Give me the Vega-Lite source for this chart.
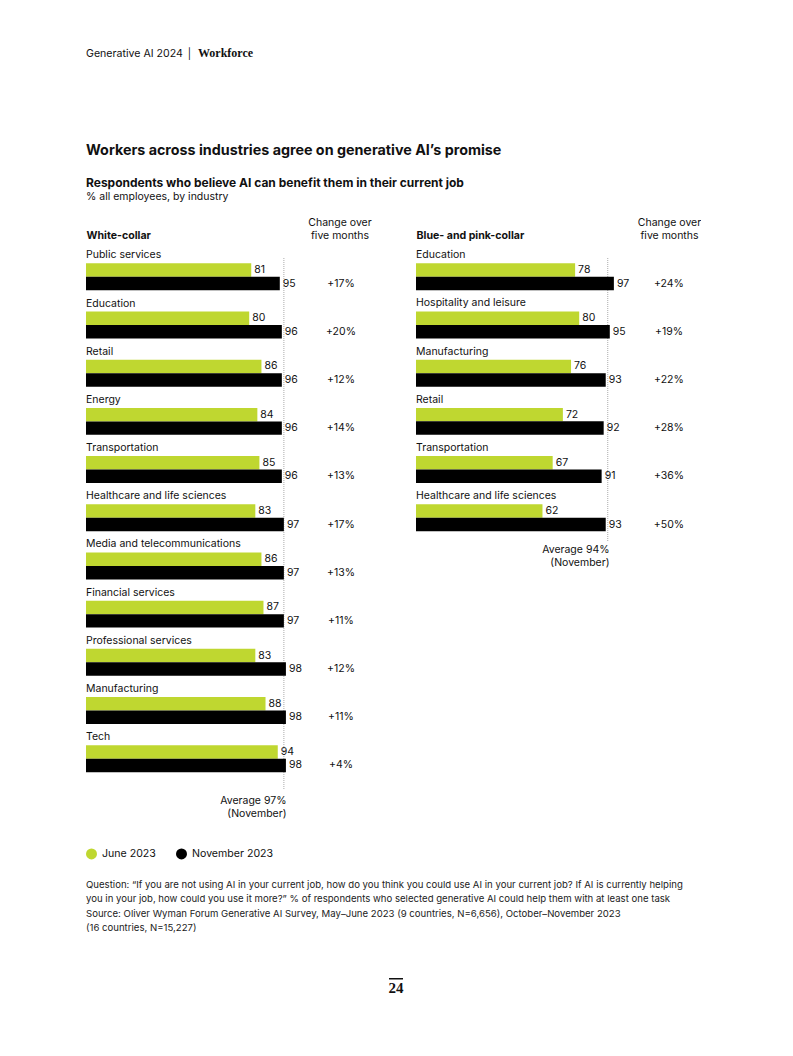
{
  "$schema": "https://vega.github.io/schema/vega-lite/v6.json",
  "background": "white",
  "padding": {"left": 86, "top": 47, "right": 0, "bottom": 0},
  "datasets": {
    "white": [
      {"industry": "Public services", "June 2023": 81, "November 2023": 95, "change": "+17%"},
      {"industry": "Education", "June 2023": 80, "November 2023": 96, "change": "+20%"},
      {"industry": "Retail", "June 2023": 86, "November 2023": 96, "change": "+12%"},
      {"industry": "Energy", "June 2023": 84, "November 2023": 96, "change": "+14%"},
      {"industry": "Transportation", "June 2023": 85, "November 2023": 96, "change": "+13%"},
      {"industry": "Healthcare and life sciences", "June 2023": 83, "November 2023": 97, "change": "+17%"},
      {"industry": "Media and telecommunications", "June 2023": 86, "November 2023": 97, "change": "+13%"},
      {"industry": "Financial services", "June 2023": 87, "November 2023": 97, "change": "+11%"},
      {"industry": "Professional services", "June 2023": 83, "November 2023": 98, "change": "+12%"},
      {"industry": "Manufacturing", "June 2023": 88, "November 2023": 98, "change": "+11%"},
      {"industry": "Tech", "June 2023": 94, "November 2023": 98, "change": "+4%"}
    ],
    "blue": [
      {"industry": "Education", "June 2023": 78, "November 2023": 97, "change": "+24%"},
      {"industry": "Hospitality and leisure", "June 2023": 80, "November 2023": 95, "change": "+19%"},
      {"industry": "Manufacturing", "June 2023": 76, "November 2023": 93, "change": "+22%"},
      {"industry": "Retail", "June 2023": 72, "November 2023": 92, "change": "+28%"},
      {"industry": "Transportation", "June 2023": 67, "November 2023": 91, "change": "+36%"},
      {"industry": "Healthcare and life sciences", "June 2023": 62, "November 2023": 93, "change": "+50%"}
    ],
    "avgWhite": [{"avg": 97}],
    "avgBlue": [{"avg": 94}]
  },
  "spacing": 0,
  "resolve": {"scale": {"color": "independent"}, "legend": {"color": "independent"}},
  "vconcat": [
    {
      "spacing": 4,
      "hconcat": [
        {"width": 1, "height": 79, "title": {"text": "Generative AI 2024 │", "fontSize": 10.6, "fontWeight": "normal"}, "data": {"values": []}, "mark": "point", "encoding": {}},
        {"width": 1, "height": 79, "title": {"text": "Workforce", "font": "Liberation Serif", "fontWeight": "bold", "fontSize": 12}, "data": {"values": []}, "mark": "point", "encoding": {}}
      ]
    },
    {"width": 1, "height": 14, "title": {"text": "Workers across industries agree on generative AI’s promise", "fontSize": 14.3, "fontWeight": "bold"}, "data": {"values": []}, "mark": "point", "encoding": {}},
    {"width": 1, "height": 10, "title": {"text": "Respondents who believe AI can benefit them in their current job", "subtitle": "% all employees, by industry", "fontSize": 12, "fontWeight": "bold", "subtitleFontSize": 10.5, "subtitleFont": "Inter", "subtitlePadding": 2, "subtitleColor": "#111111"}, "data": {"values": []}, "mark": "point", "encoding": {}},
    {
      "spacing": 126,
      "bounds": "flush",
      "resolve": {"scale": {"color": "shared"}, "legend": {"color": "shared"}},
      "hconcat": [
        {
          "width": 204,
          "height": 532,
          "data": {"name": "white"},
          "resolve": {"axis": {"x": "independent"}},
          "layer": [
            {
              "data": {"name": "avgWhite"},
              "mark": {"type": "rule", "color": "#aaaaaa", "strokeDash": [1, 1], "strokeWidth": 1},
              "encoding": {
                "x": {"field": "avg", "type": "quantitative", "scale": {"domain": [0, 100], "nice": false, "zero": true},
                  "axis": {"orient": "bottom", "title": ["Average 97%", "(November)"], "labels": false, "ticks": false, "domain": false, "grid": false, "titleX": 200, "titleY": 5.5, "titleAlign": "right", "titleBaseline": "top", "titleLineHeight": 13, "titleFontWeight": "normal", "titleFontSize": 10.5, "minExtent": 0, "maxExtent": 0}}
              }
            },
            {
              "transform": [{"fold": ["June 2023", "November 2023"], "as": ["period", "value"]}],
              "mark": {"type": "bar"},
              "encoding": {
                "y": {"field": "industry", "type": "nominal",
                  "scale": {"domain": ["Public services", "Education", "Retail", "Energy", "Transportation", "Healthcare and life sciences", "Media and telecommunications", "Financial services", "Professional services", "Manufacturing", "Tech"], "paddingInner": 0.44, "paddingOuter": 0.24, "align": 0.23},
                  "axis": {"title": "White-collar", "orient": "left", "labels": false, "ticks": false, "domain": false, "grid": false, "titleAngle": 0, "titleX": 0, "titleY": -20, "titleAlign": "left", "titleBaseline": "alphabetic", "titleFontWeight": "bold", "titleFontSize": 10.6, "minExtent": 0, "maxExtent": 0}},
                "yOffset": {"field": "period", "type": "nominal", "scale": {"domain": ["June 2023", "November 2023"], "paddingInner": 0, "paddingOuter": 0}},
                "x": {"field": "value", "type": "quantitative", "scale": {"domain": [0, 100], "nice": false, "zero": true},
                  "axis": {"orient": "top", "title": ["Change over", "five months"], "labels": false, "ticks": false, "domain": false, "grid": false, "titleX": 253.5, "titleY": -31, "titleAlign": "center", "titleBaseline": "bottom", "titleLineHeight": 13, "titleFontWeight": "normal", "titleFontSize": 10.5, "minExtent": 0, "maxExtent": 0}},
                "color": {"field": "period", "type": "nominal", "scale": {"domain": ["June 2023", "November 2023"], "range": ["#bfd730", "#000000"]},
                  "legend": {"orient": "bottom", "direction": "horizontal", "title": null, "symbolType": "circle", "symbolSize": 120, "symbolStrokeWidth": 0, "labelFontSize": 10.6, "labelColor": "#111111", "columnPadding": 20, "offset": 29, "labelOffset": 5}}
              }
            },
            {
              "transform": [{"fold": ["June 2023", "November 2023"], "as": ["period", "value"]}],
              "mark": {"type": "text", "align": "left", "baseline": "middle", "dx": 3},
              "encoding": {
                "y": {"field": "industry", "type": "nominal"},
                "yOffset": {"field": "period", "type": "nominal"},
                "x": {"field": "value", "type": "quantitative", "axis": null},
                "text": {"field": "value", "type": "quantitative"}
              }
            },
            {
              "mark": {"type": "text", "align": "left", "baseline": "alphabetic", "dy": -5},
              "encoding": {
                "y": {"field": "industry", "type": "nominal", "bandPosition": 0},
                "x": {"datum": 0, "type": "quantitative", "axis": null},
                "text": {"field": "industry"}
              }
            },
            {
              "mark": {"type": "text", "align": "center", "baseline": "middle"},
              "encoding": {
                "y": {"field": "industry", "type": "nominal", "bandPosition": 0.75},
                "x": {"datum": 125, "type": "quantitative", "axis": null},
                "text": {"field": "change"}
              }
            }
          ]
        },
        {
          "width": 204,
          "height": 283,
          "data": {"name": "blue"},
          "resolve": {"axis": {"x": "independent"}},
          "layer": [
            {
              "data": {"name": "avgBlue"},
              "mark": {"type": "rule", "color": "#aaaaaa", "strokeDash": [1, 1], "strokeWidth": 1},
              "encoding": {
                "x": {"field": "avg", "type": "quantitative", "scale": {"domain": [0, 100], "nice": false, "zero": true},
                  "axis": {"orient": "bottom", "title": ["Average 94%", "(November)"], "labels": false, "ticks": false, "domain": false, "grid": false, "titleX": 193, "titleY": 3, "titleAlign": "right", "titleBaseline": "top", "titleLineHeight": 13, "titleFontWeight": "normal", "titleFontSize": 10.5, "minExtent": 0, "maxExtent": 0}}
              }
            },
            {
              "transform": [{"fold": ["June 2023", "November 2023"], "as": ["period", "value"]}],
              "mark": {"type": "bar"},
              "encoding": {
                "y": {"field": "industry", "type": "nominal",
                  "scale": {"domain": ["Education", "Hospitality and leisure", "Manufacturing", "Retail", "Transportation", "Healthcare and life sciences"], "paddingInner": 0.44, "paddingOuter": 0.156, "align": 0.352},
                  "axis": {"title": "Blue- and pink-collar", "orient": "left", "labels": false, "ticks": false, "domain": false, "grid": false, "titleAngle": 0, "titleX": 0, "titleY": -20, "titleAlign": "left", "titleBaseline": "alphabetic", "titleFontWeight": "bold", "titleFontSize": 10.6, "minExtent": 0, "maxExtent": 0}},
                "yOffset": {"field": "period", "type": "nominal", "scale": {"domain": ["June 2023", "November 2023"], "paddingInner": 0, "paddingOuter": 0}},
                "x": {"field": "value", "type": "quantitative", "scale": {"domain": [0, 100], "nice": false, "zero": true},
                  "axis": {"orient": "top", "title": ["Change over", "five months"], "labels": false, "ticks": false, "domain": false, "grid": false, "titleX": 253, "titleY": -31, "titleAlign": "center", "titleBaseline": "bottom", "titleLineHeight": 13, "titleFontWeight": "normal", "titleFontSize": 10.5, "minExtent": 0, "maxExtent": 0}},
                "color": {"field": "period", "type": "nominal", "scale": {"domain": ["June 2023", "November 2023"], "range": ["#bfd730", "#000000"]},
                  "legend": {"orient": "bottom", "direction": "horizontal", "title": null, "symbolType": "circle", "symbolSize": 120, "symbolStrokeWidth": 0, "labelFontSize": 10.6, "labelColor": "#111111", "columnPadding": 20, "offset": 29, "labelOffset": 5}}
              }
            },
            {
              "transform": [{"fold": ["June 2023", "November 2023"], "as": ["period", "value"]}],
              "mark": {"type": "text", "align": "left", "baseline": "middle", "dx": 3},
              "encoding": {
                "y": {"field": "industry", "type": "nominal"},
                "yOffset": {"field": "period", "type": "nominal"},
                "x": {"field": "value", "type": "quantitative", "axis": null},
                "text": {"field": "value", "type": "quantitative"}
              }
            },
            {
              "mark": {"type": "text", "align": "left", "baseline": "alphabetic", "dy": -5},
              "encoding": {
                "y": {"field": "industry", "type": "nominal", "bandPosition": 0},
                "x": {"datum": 0, "type": "quantitative", "axis": null},
                "text": {"field": "industry"}
              }
            },
            {
              "mark": {"type": "text", "align": "center", "baseline": "middle"},
              "encoding": {
                "y": {"field": "industry", "type": "nominal", "bandPosition": 0.75},
                "x": {"datum": 124, "type": "quantitative", "axis": null},
                "text": {"field": "change"}
              }
            }
          ]
        }
      ]
    },
    {"width": 1, "height": 16, "title": {"orient": "bottom", "text": ["Question: “If you are not using AI in your current job, how do you think you could use AI in your current job? If AI is currently helping", "you in your job, how could you use it more?” % of respondents who selected generative AI could help them with at least one task"], "subtitle": ["Source: Oliver Wyman Forum Generative AI Survey, May–June 2023 (9 countries, N=6,656), October–November 2023", "(16 countries, N=15,227)"], "fontSize": 9.6, "fontWeight": "normal", "lineHeight": 14, "subtitleFont": "Inter", "subtitleFontSize": 9.6, "subtitleLineHeight": 14, "subtitlePadding": 5.5, "color": "#222222", "subtitleColor": "#222222"}, "data": {"values": []}, "mark": "point", "encoding": {}},
    {"width": 1, "height": 44.5, "data": {"values": []}, "mark": "point", "encoding": {}},
    {
      "spacing": 0,
      "hconcat": [
        {"width": 302, "height": 1.5, "data": {"values": []}, "mark": "point", "encoding": {}},
        {"width": 14, "height": 1.5, "view": {"fill": "#111111", "stroke": null}, "title": {"text": "24", "orient": "bottom", "anchor": "middle", "offset": 1, "font": "Liberation Serif", "fontWeight": "bold", "fontSize": 15, "color": "#111111"}, "data": {"values": []}, "mark": "point", "encoding": {}}
      ]
    }
  ],
  "config": {
    "view": {"stroke": null},
    "font": "Inter",
    "title": {"anchor": "start", "offset": 0, "color": "#111111", "font": "Inter"},
    "text": {"color": "#111111", "font": "Inter", "fontSize": 10.5},
    "axis": {"titleColor": "#111111", "titleFont": "Inter"},
    "legend": {"labelFont": "Inter"}
  }
}
